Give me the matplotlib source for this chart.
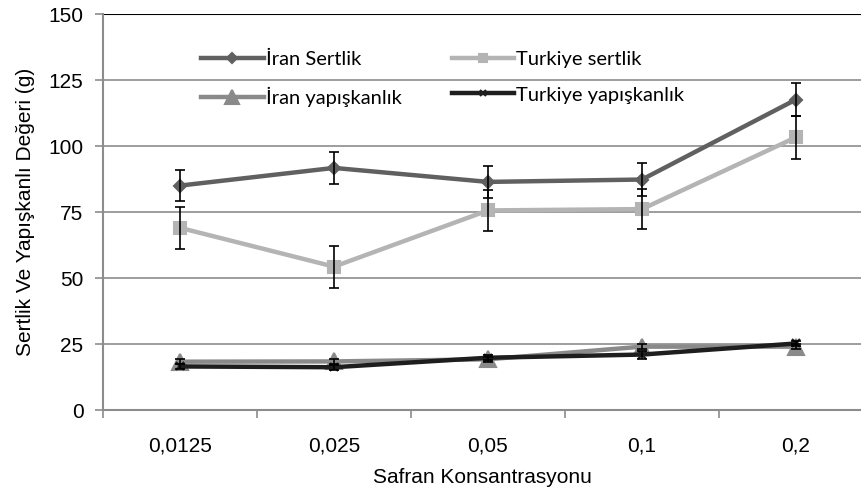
import numpy as np
import matplotlib
matplotlib.use("Agg")
import matplotlib.pyplot as plt

plt.rcParams['font.family'] = ['Liberation Sans', 'DejaVu Sans']

categories = ['0,0125', '0,025', '0,05', '0,1', '0,2']

iran_sert = [85, 91.7, 86.4, 87.3, 117.6]
iran_sert_err = [6, 6, 6, 6.2, 6.2]
turk_sert = [69, 54.3, 75.6, 76.1, 103.3]
turk_sert_err = [8, 7.9, 7.8, 7.7, 8.2]
iran_yap = [18.3, 18.4, 19.2, 24, 24]
iran_yap_err = [1, 1, 1, 1, 1]
turk_yap = [16.5, 16.2, 19.8, 21, 25.2]
turk_yap_err = [1, 1, 1, 1.5, 1]

x = np.arange(len(categories))

fig = plt.figure(figsize=(8.61, 4.95), dpi=100)
ax = fig.add_axes([103/861, 1 - 410/495, 1 - 103/861, (410 - 14)/495])

series = [
    (iran_sert, iran_sert_err, 'İran Sertlik', '#606060', 'D', 6),
    (turk_sert, turk_sert_err, 'Turkiye sertlik', '#b4b4b4', 's', 8),
    (iran_yap, iran_yap_err, 'İran yapışkanlık', '#8a8a8a', '^', 12),
    (turk_yap, turk_yap_err, 'Turkiye yapışkanlık', '#1e1e1e', 'x', 6),
]

handles = []
for vals, err, name, col, mk, ms in series:
    h, = ax.plot(x, vals, color=col, lw=3.2, marker=mk, ms=ms, mew=1.5,
                 mec=col, mfc=col, label=name, zorder=3, clip_on=False)
    handles.append(h)
    ax.errorbar(x, vals, yerr=err, fmt='none', ecolor='black',
                elinewidth=1.2, capsize=3.6, capthick=1.2, zorder=4)

ax.set_ylim(0, 150)
ax.set_yticks([0, 25, 50, 75, 100, 125, 150])
ax.set_xlim(-0.5, -0.5 + 758/154)
ax.set_xticks(np.arange(-0.5, 4.5, 1.0))
ax.set_xticklabels([])
ax.set_xticks(x, minor=True)
ax.set_xticklabels(categories, minor=True)
ax.tick_params(axis='x', which='minor', length=0, pad=19, labelsize=15)
ax.tick_params(axis='x', which='major', length=6, color='#8c8c8c', width=1.2)
ax.tick_params(axis='y', length=6, color='#8c8c8c', width=1.2, labelsize=15, pad=8)

ax.grid(axis='y', color='#8c8c8c', lw=1.2, zorder=0)
ax.set_axisbelow(True)
for s in ['top', 'right']:
    ax.spines[s].set_visible(False)
ax.axhline(150, color='black', lw=1.5, zorder=1)
for s in ['left', 'bottom']:
    ax.spines[s].set_color('#8c8c8c')
    ax.spines[s].set_linewidth(1.5)

ax.set_xlabel('Safran Konsantrasyonu', fontsize=15, labelpad=9)
ax.set_ylabel('Sertlik Ve Yapışkanlı Değeri (g)', fontsize=15, labelpad=10)

# row-major order like the original legend
order = [handles[0], handles[2], handles[1], handles[3]]
leg = ax.legend(order, [h.get_label() for h in order], ncol=2, loc='upper left',
                bbox_to_anchor=(183/861, 1 - 33/495),
                bbox_transform=fig.transFigure, frameon=False,
                handlelength=3.1, handletextpad=0.1, columnspacing=2.5,
                labelspacing=0.9, markerscale=0.8,
                prop={'family': ['Lato', 'DejaVu Sans'], 'size': 14.5})

fig.savefig('out.png', dpi=100)
